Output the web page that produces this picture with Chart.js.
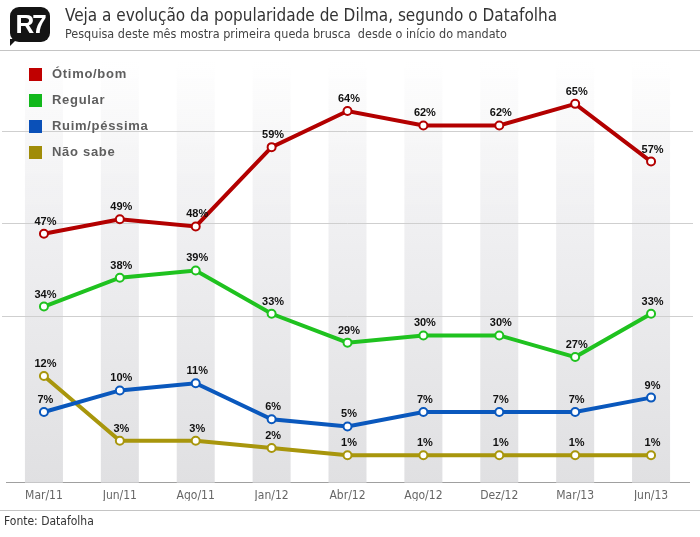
<!DOCTYPE html>
<html>
<head>
<meta charset="utf-8">
<script src="https://cdn.jsdelivr.net/npm/chart.js@4.4.1/dist/chart.umd.min.js"></script>
<style>
    body { margin: 0; background: #fff; }
    #wrap { position: relative; width: 700px; height: 537px; overflow: hidden; }
    #chart { position: absolute; left: 0; top: 0; }
    .narrow { font-family: "Liberation Sans Narrow", "Arial Narrow", "DejaVu Sans Condensed", sans-serif; }
    #logo {
        position: absolute; left: 10px; top: 7px; width: 40px; height: 35px;
        background: #141414; border-radius: 9px; color: #fff;
        font: bold 26px "Liberation Sans Narrow", "Arial Narrow", sans-serif;
        line-height: 35px; text-align: center; letter-spacing: -2px;
    }
    #logo:after {
        content: ""; position: absolute; left: 0; bottom: -4px;
        border-top: 7px solid #141414; border-right: 7px solid transparent;
    }
    #title { position: absolute; left: 65px; top: 5px; font-size: 17px; color: #333; white-space: nowrap; }
    #subtitle { position: absolute; left: 65px; top: 26px; font-size: 12.5px; color: #444; white-space: nowrap; }
    .rule { position: absolute; left: 0; width: 700px; height: 1px; background: #c4c4c4; }
    #source { position: absolute; left: 4px; top: 514px; font-size: 12px; color: #333; }
</style>
</head>
<body>
<div id="wrap">
    <canvas id="chart" width="700" height="537"></canvas>
    <div id="logo">R7</div>
    <div id="title" class="narrow">Veja a evolução da popularidade de Dilma, segundo o Datafolha</div>
    <div id="subtitle" class="narrow">Pesquisa deste mês mostra primeira queda brusca&nbsp; desde o início do mandato</div>
    <div class="rule" style="top:50px"></div>
    <div class="rule" style="top:510px"></div>
    <div id="source" class="narrow">Fonte: Datafolha</div>
</div>
<script>
// Dados - Datafolha
const MONTHS = ['Mar/11', 'Jun/11', 'Ago/11', 'Jan/12', 'Abr/12', 'Ago/12', 'Dez/12', 'Mar/13', 'Jun/13'];
const OTIMO_BOM = [47, 49, 48, 59, 64, 62, 62, 65, 57];
const REGULAR = [34, 38, 39, 33, 29, 30, 30, 27, 33];
const RUIM_PESSIMA = [7, 10, 11, 6, 5, 7, 7, 7, 9];
const NAO_SABE = [12, 3, 3, 2, 1, 1, 1, 1, 1];
const SERIES_NAMES = ['Ótimo/bom', 'Regular', 'Ruim/péssima', 'Não sabe'];

// o gráfico original não está em escala única: cada faixa tem seu eixo
const RED_RANGE = [12.5, 70.8];
const GREEN_RANGE = [9.6, 67.9];
const LOW_RANGE = [-2.8, 55.6];
const GRID_VALUES = [20.4, 33.3, 46];

const LINE_COLORS = ['#b30000', '#1fc21f', '#0a58bd', '#a8960c'];
const KEY_COLORS = ['#c00000', '#12b81c', '#0a50b8', '#a08c08'];

const NARROW = '"Liberation Sans Narrow", "Arial Narrow", "DejaVu Sans Condensed", sans-serif';

// ==================== PLUGINS ====================

const backdrop = {
    id: 'backdrop',
    beforeDatasetsDraw(chart) {
        const {ctx, chartArea: area, scales} = chart;
        const x = scales.x;
        const grad = ctx.createLinearGradient(0, area.top, 0, area.bottom);
        grad.addColorStop(0, 'rgba(235,235,237,0)');
        grad.addColorStop(0.4, '#efeff1');
        grad.addColorStop(1, '#e0e0e2');
        ctx.save();
        ctx.fillStyle = grad;
        MONTHS.forEach((m, i) => {
            const px = x.getPixelForValue(i);
            ctx.fillRect(px - 19, area.top, 38, area.bottom - area.top);
        });
        // linhas horizontais
        ctx.strokeStyle = '#cfcfcf';
        ctx.lineWidth = 1;
        GRID_VALUES.forEach(v => {
            const py = Math.round(scales.yLow.getPixelForValue(v)) + 0.5;
            ctx.beginPath();
            ctx.moveTo(2, py);
            ctx.lineTo(693, py);
            ctx.stroke();
        });
        ctx.restore();
    }
};

const annotations = {
    id: 'annotations',
    afterDatasetsDraw(chart) {
        const {ctx} = chart;
        ctx.save();
        // rótulos de valor
        ctx.font = 'bold 11px "Liberation Sans", Arial, sans-serif';
        ctx.fillStyle = '#111';
        ctx.textAlign = 'center';
        ctx.textBaseline = 'alphabetic';
        chart.data.datasets.forEach((ds, di) => {
            const meta = chart.getDatasetMeta(di);
            meta.data.forEach((pt, i) => {
                ctx.fillText(ds.data[i] + '%', pt.x + 1.5, pt.y - 9);
            });
        });
        // legenda
        ctx.font = 'bold 13px "Liberation Sans", Arial, sans-serif';
        ctx.letterSpacing = '0.7px';
        ctx.textAlign = 'left';
        ctx.textBaseline = 'middle';
        SERIES_NAMES.forEach((name, i) => {
            const cy = 74 + i * 26;
            ctx.fillStyle = KEY_COLORS[i];
            ctx.fillRect(29, cy - 6, 13, 13);
            ctx.fillStyle = '#5e5e5e';
            ctx.fillText(name, 52, cy + 0.5);
        });
        ctx.restore();
    }
};

// ==================== CHART ====================

function makeSeries(label, data, idx, axis) {
    return {
        label: label,
        data: data,
        yAxisID: axis,
        borderColor: LINE_COLORS[idx],
        borderWidth: 4,
        pointRadius: 4,
        pointBorderWidth: 2,
        pointBackgroundColor: '#fff',
        pointBorderColor: LINE_COLORS[idx],
        tension: 0
    };
}

new Chart(document.getElementById('chart'), {
    type: 'line',
    data: {
        labels: MONTHS,
        datasets: [
            makeSeries(SERIES_NAMES[0], OTIMO_BOM, 0, 'yRed'),
            makeSeries(SERIES_NAMES[1], REGULAR, 1, 'yGreen'),
            makeSeries(SERIES_NAMES[2], RUIM_PESSIMA, 2, 'yLow'),
            makeSeries(SERIES_NAMES[3], NAO_SABE, 3, 'yLow')
        ]
    },
    options: {
        responsive: false,
        animation: false,
        layout: { padding: { top: 62, left: -1, right: 11, bottom: 36 } },
        plugins: {
            legend: { display: false },
            tooltip: { enabled: false }
        },
        scales: {
            x: {
                offset: true,
                grid: { display: false },
                border: { display: true, color: '#a0a0a0', width: 1 },
                ticks: {
                    color: '#666',
                    padding: -2,
                    maxRotation: 0,
                    font: { family: NARROW, size: 12 }
                }
            },
            yRed: { display: false, min: RED_RANGE[0], max: RED_RANGE[1] },
            yGreen: { display: false, min: GREEN_RANGE[0], max: GREEN_RANGE[1] },
            yLow: { display: false, min: LOW_RANGE[0], max: LOW_RANGE[1] }
        }
    },
    plugins: [backdrop, annotations]
});
</script>
</body>
</html>
